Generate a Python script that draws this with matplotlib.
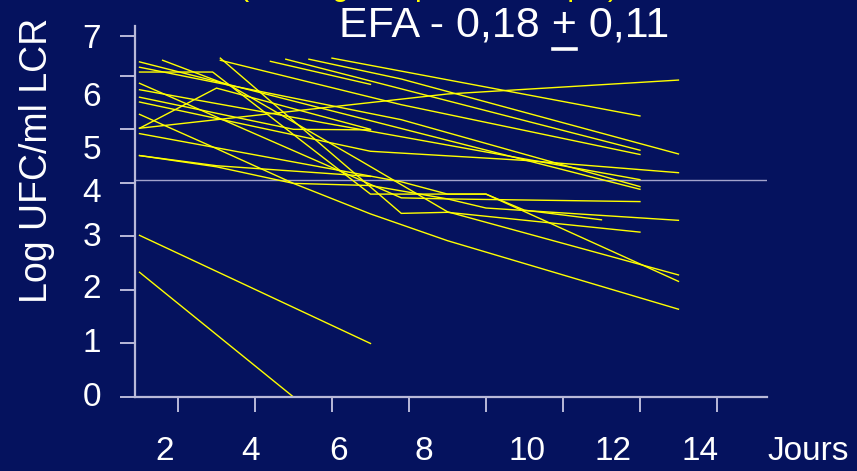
import matplotlib
matplotlib.use("Agg")
import matplotlib.pyplot as plt
from matplotlib.lines import Line2D

# Days of sampling and Log CFU/ml in CSF, one list pair per animal
days_a = [1, 7];                       cfu_a = [3.02, 1.00]
days_b = [1, 5];                       cfu_b = [2.33, 0.00]
days_c = [1, 3, 7];                    cfu_c = [4.51, 4.32, 4.12]
days_d = [1, 3, 5, 7, 9, 15];          cfu_d = [5.28, 4.64, 3.99, 3.42, 2.92, 1.64]
days_e = [1, 3, 5, 7, 9, 14];          cfu_e = [4.51, 4.30, 3.99, 3.95, 3.70, 3.65]
days_f = [1, 5, 9, 15];                cfu_f = [5.02, 5.34, 5.66, 5.92]
days_g = [1, 3, 7];                    cfu_g = [5.02, 5.77, 5.00]
days_h = [6, 14];                      cfu_h = [6.33, 5.25]
days_i = [4.4, 7];                     cfu_i = [6.27, 5.84]
days_j = [5.4, 7.8, 15];               cfu_j = [6.31, 5.94, 4.54]
days_k = [4.8, 14];                    cfu_k = [6.31, 4.61]
days_l = [3.1, 7.8, 14];               cfu_l = [6.29, 5.46, 4.53]
days_m = [1, 7, 11, 15];               cfu_m = [5.51, 4.59, 4.42, 4.19]
days_n = [1, 14];                      cfu_n = [5.74, 4.06]
days_o = [1, 7.8, 14];                 cfu_o = [6.16, 5.18, 3.93]
days_p = [1, 14];                      cfu_p = [6.26, 3.88]
days_q = [1, 2.9, 7, 10, 15];          cfu_q = [6.07, 6.07, 3.79, 3.79, 2.16]
days_r = [1.6, 3.4, 6.7, 9, 15];       cfu_r = [6.29, 5.80, 4.43, 3.46, 2.28]
days_s = [1, 7.8, 9, 10, 11, 13];      cfu_s = [4.92, 4.02, 3.79, 3.79, 3.49, 3.31]
days_t = [1, 7.8, 9, 10, 15];          cfu_t = [5.86, 3.72, 3.70, 3.53, 3.30]
days_u = [3.1, 7.8, 9, 14];            cfu_u = [6.33, 3.43, 3.45, 3.08]
days_v = [1, 5, 7];                    cfu_v = [5.60, 5.00, 4.99]

series = [
    (days_a, cfu_a), (days_b, cfu_b), (days_c, cfu_c), (days_d, cfu_d),
    (days_e, cfu_e), (days_f, cfu_f), (days_g, cfu_g), (days_h, cfu_h),
    (days_i, cfu_i), (days_j, cfu_j), (days_k, cfu_k), (days_l, cfu_l),
    (days_m, cfu_m), (days_n, cfu_n), (days_o, cfu_o), (days_p, cfu_p),
    (days_q, cfu_q), (days_r, cfu_r), (days_s, cfu_s), (days_t, cfu_t),
    (days_u, cfu_u), (days_v, cfu_v),
]

threshold = 4.06
x_ticks = [2, 4, 6, 8, 10, 12, 14, 16]
y_ticks = [0, 1, 2, 3, 4, 5, 6, 6.75]
x_labels = ["2", "4", "6", "8", "10", "12", "14", "Jours"]
y_labels = ["7", "6", "5", "4", "3", "2", "1", "0"]
title = "EFA - 0,18 + 0,11"
subtitle = "(Méningite à pneumocoque)"
y_title = "Log UFC/ml LCR"

BG = "#05125e"
AXIS = "#b9b9d9"
YELLOW = "#ffff00"
W, H = 857, 471

plt.rcParams["font.family"] = ["Liberation Sans", "DejaVu Sans"]
fig = plt.figure(figsize=(W / 100, H / 100), dpi=100, facecolor=BG)


def fx(px):
    return px / W


def fy(py):
    return 1 - py / H


ax = fig.add_axes([fx(135), fy(397), fx(767) - fx(135), fy(26) - fy(397)])
ax.set_facecolor(BG)
ax.set_xlim(0.883, 17.30)
ax.set_ylim(0, 6.93)

for d, v in series:
    ax.plot(d, v, color=YELLOW, lw=1.0, solid_joinstyle="miter", clip_on=False)

ax.axhline(threshold, color="#a3a3cc", lw=1.0, zorder=1)

for side in ("top", "right"):
    ax.spines[side].set_visible(False)
for side in ("left", "bottom"):
    ax.spines[side].set_color(AXIS)
    ax.spines[side].set_linewidth(1.6)
ax.set_xticks(x_ticks)
ax.set_yticks(y_ticks)
ax.set_xticklabels([])
ax.set_yticklabels([])
ax.tick_params(axis="both", direction="out", length=10.5, width=1.4, color=AXIS)

# axis labels drawn as free text
x_label_px = [165, 251, 339, 424, 527, 613, 700, 808]
for s, px in zip(x_labels, x_label_px):
    fig.text(fx(px), fy(452), s, color="white", fontsize=24, ha="center", va="center")

y_label_py = [40, 98, 151, 194, 237, 290, 343, 398]
for s, py in zip(y_labels, y_label_py):
    fig.text(fx(92), fy(py), s, color="white", fontsize=24, ha="center", va="center")

fig.text(fx(37), fy(160), y_title, color="white", fontsize=27, rotation=90,
         ha="center", va="center")

# headline with underlined plus sign
TS = 31
t = fig.text(fx(504), fy(25), title, color="white", fontsize=TS, ha="center", va="center")
fig.canvas.draw()
r = fig.canvas.get_renderer()
bb = t.get_window_extent(r)
probe = fig.text(0, 0, "EFA - 0,18 +", fontsize=TS)
wp = probe.get_window_extent(r).width
probe2 = fig.text(0, 0, "+", fontsize=TS)
wplus = probe2.get_window_extent(r).width
probe.remove(); probe2.remove()
x0 = bb.x0 + wp - wplus
fig.add_artist(Line2D([(x0 + 1) / W, (x0 + wplus - 1) / W], [fy(48.5), fy(48.5)],
                      color="white", lw=2.6, transform=fig.transFigure))

fig.text(fx(429), fy(-5), subtitle, color=YELLOW, fontsize=22, ha="center", va="baseline")

fig.savefig("out.png", dpi=100, facecolor=BG)
